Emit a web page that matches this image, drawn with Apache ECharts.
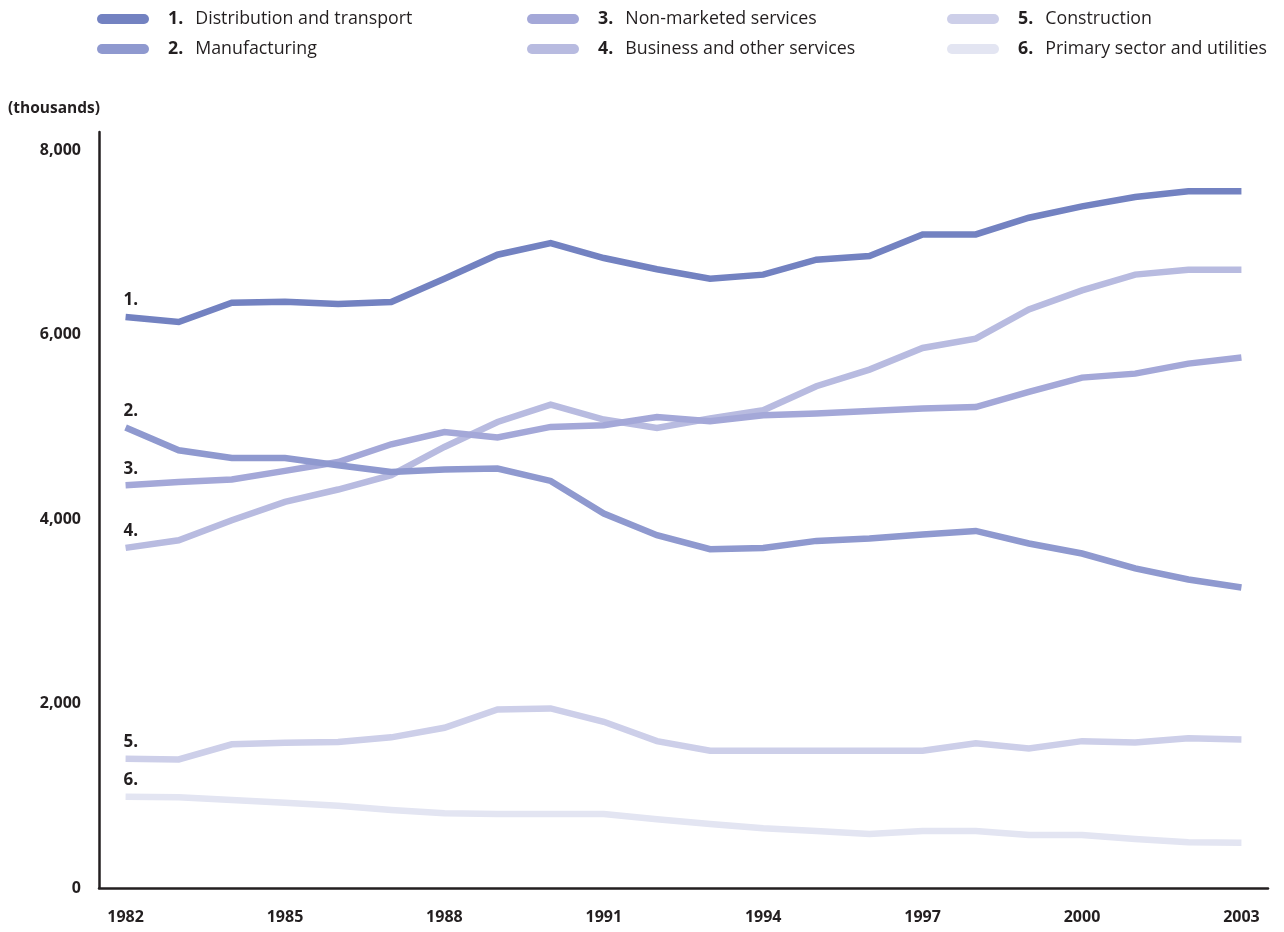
<!DOCTYPE html>
<html>
<head>
<meta charset="utf-8">
<script src="https://cdn.jsdelivr.net/npm/echarts@6/dist/echarts.min.js"></script>
<style>
  html, body { margin: 0; padding: 0; background: #ffffff; }
  #chart { width: 1284px; height: 932px; }
</style>
</head>
<body>
<div id="chart"></div>
<script>
const years = ['1982','1983','1984','1985','1986','1987','1988','1989','1990','1991','1992',
               '1993','1994','1995','1996','1997','1998','1999','2000','2001','2002','2003'];

const seriesNames = [
  'Distribution and transport',
  'Manufacturing',
  'Non-marketed services',
  'Business and other services',
  'Construction',
  'Primary sector and utilities'
];

const distribution = [6193,6139,6349,6360,6334,6356,6609,6869,6995,6833,6712,
                      6609,6653,6815,6854,7089,7089,7270,7393,7494,7556,7556];
const manufacturing = [4994,4748,4664,4664,4585,4513,4539,4550,4415,4062,3827,
                       3675,3689,3765,3791,3834,3873,3737,3628,3466,3346,3260];
const nonMarketed = [4369,4404,4430,4524,4621,4813,4946,4886,5001,5019,5109,
                     5062,5127,5146,5174,5200,5217,5380,5536,5579,5688,5753];
const business = [3689,3772,3989,4188,4322,4477,4784,5055,5243,5081,4989,
                  5092,5182,5442,5623,5857,5959,6276,6482,6653,6707,6707];
const construction = [1402,1395,1558,1575,1583,1634,1738,1937,1948,1803,1593,
                      1488,1488,1488,1488,1488,1569,1514,1593,1579,1623,1612];
const primary = [990,983,954,925,892,846,810,802,802,802,745,
                 694,647,618,585,618,618,575,575,531,495,491];

const yTicks = [0, 2000, 4000, 6000, 8000];

const allData = [distribution, manufacturing, nonMarketed, business, construction, primary];
const colors = ['#7382c1', '#8f99cf', '#a4a8d8', '#b8bbe0', '#cdcfe9', '#e3e5f2'];

const FONT = '"Open Sans", "Noto Sans", sans-serif';
const DARK = '#231f20';

const chart = echarts.init(document.getElementById('chart'), null, { renderer: 'canvas' });

const series = allData.map((d, i) => ({
  name: seriesNames[i],
  type: 'line',
  data: d,
  showSymbol: true,
  symbol: 'circle',
  symbolSize: 0,
  color: colors[i],
  itemStyle: { color: colors[i] },
  lineStyle: { color: colors[i], width: 6.5, cap: 'butt', join: 'miter' },
  emphasis: { disabled: true },
  z: 10 - i,
  label: {
    show: true,
    position: 'top',
    distance: 8,
    align: 'left',
    offset: [-2, 0],
    color: DARK,
    fontFamily: FONT,
    fontWeight: 'bold',
    fontSize: 17,
    formatter: p => (p.dataIndex === 0 ? (i + 1) + '.' : '')
  }
}));

const iconPath = 'path://M5,0 H47 A5,5 0 0 1 47,10 H5 A5,5 0 0 1 5,0 Z';

function makeLegend(left, names) {
  return {
    orient: 'vertical',
    left: left,
    top: 9,
    padding: 0,
    itemWidth: 52,
    itemHeight: 10,
    itemGap: 10,
    icon: iconPath,
    selectedMode: false,
    data: names,
    formatter: name => '{n|' + (seriesNames.indexOf(name) + 1) + '.}{t|' + name + '}',
    textStyle: {
      color: DARK,
      fontFamily: FONT,
      fontSize: 17.8,
      lineHeight: 20,
      rich: {
        n: { fontFamily: FONT, fontSize: 17.8, lineHeight: 20, fontWeight: 'bold', color: DARK, padding: [0, 12, 0, 14] },
        t: { fontFamily: FONT, fontSize: 17.8, lineHeight: 20, color: DARK }
      }
    }
  };
}

const option = {
  animation: false,
  backgroundColor: '#ffffff',
  title: {
    text: '(thousands)',
    left: 3,
    top: 96,
    textStyle: { fontFamily: FONT, fontSize: 15.5, fontWeight: 'bold', color: DARK }
  },
  legend: [
    makeLegend(97, [seriesNames[0], seriesNames[1]]),
    makeLegend(527, [seriesNames[2], seriesNames[3]]),
    makeLegend(947, [seriesNames[4], seriesNames[5]])
  ],
  grid: { left: 99, right: 16, top: 132, bottom: 44, containLabel: false },
  xAxis: {
    type: 'category',
    data: years,
    boundaryGap: true,
    axisLine: { show: true, lineStyle: { color: DARK, width: 2.5 } },
    axisTick: { show: false },
    axisLabel: {
      interval: 2,
      margin: 21,
      color: DARK,
      fontFamily: FONT,
      fontSize: 16,
      fontWeight: 'bold'
    },
    splitLine: { show: false }
  },
  yAxis: {
    type: 'value',
    min: 0,
    max: 8200,
    interval: 2000,
    axisLine: { show: true, lineStyle: { color: DARK, width: 2.5 } },
    axisTick: { show: false },
    splitLine: { show: false },
    axisLabel: {
      margin: 18,
      color: DARK,
      fontFamily: FONT,
      fontSize: 16,
      fontWeight: 'bold',
      formatter: v => (yTicks.indexOf(v) >= 0 ? v.toLocaleString('en-US') : '')
    }
  },
  series: series
};

chart.setOption(option);
</script>
</body>
</html>
